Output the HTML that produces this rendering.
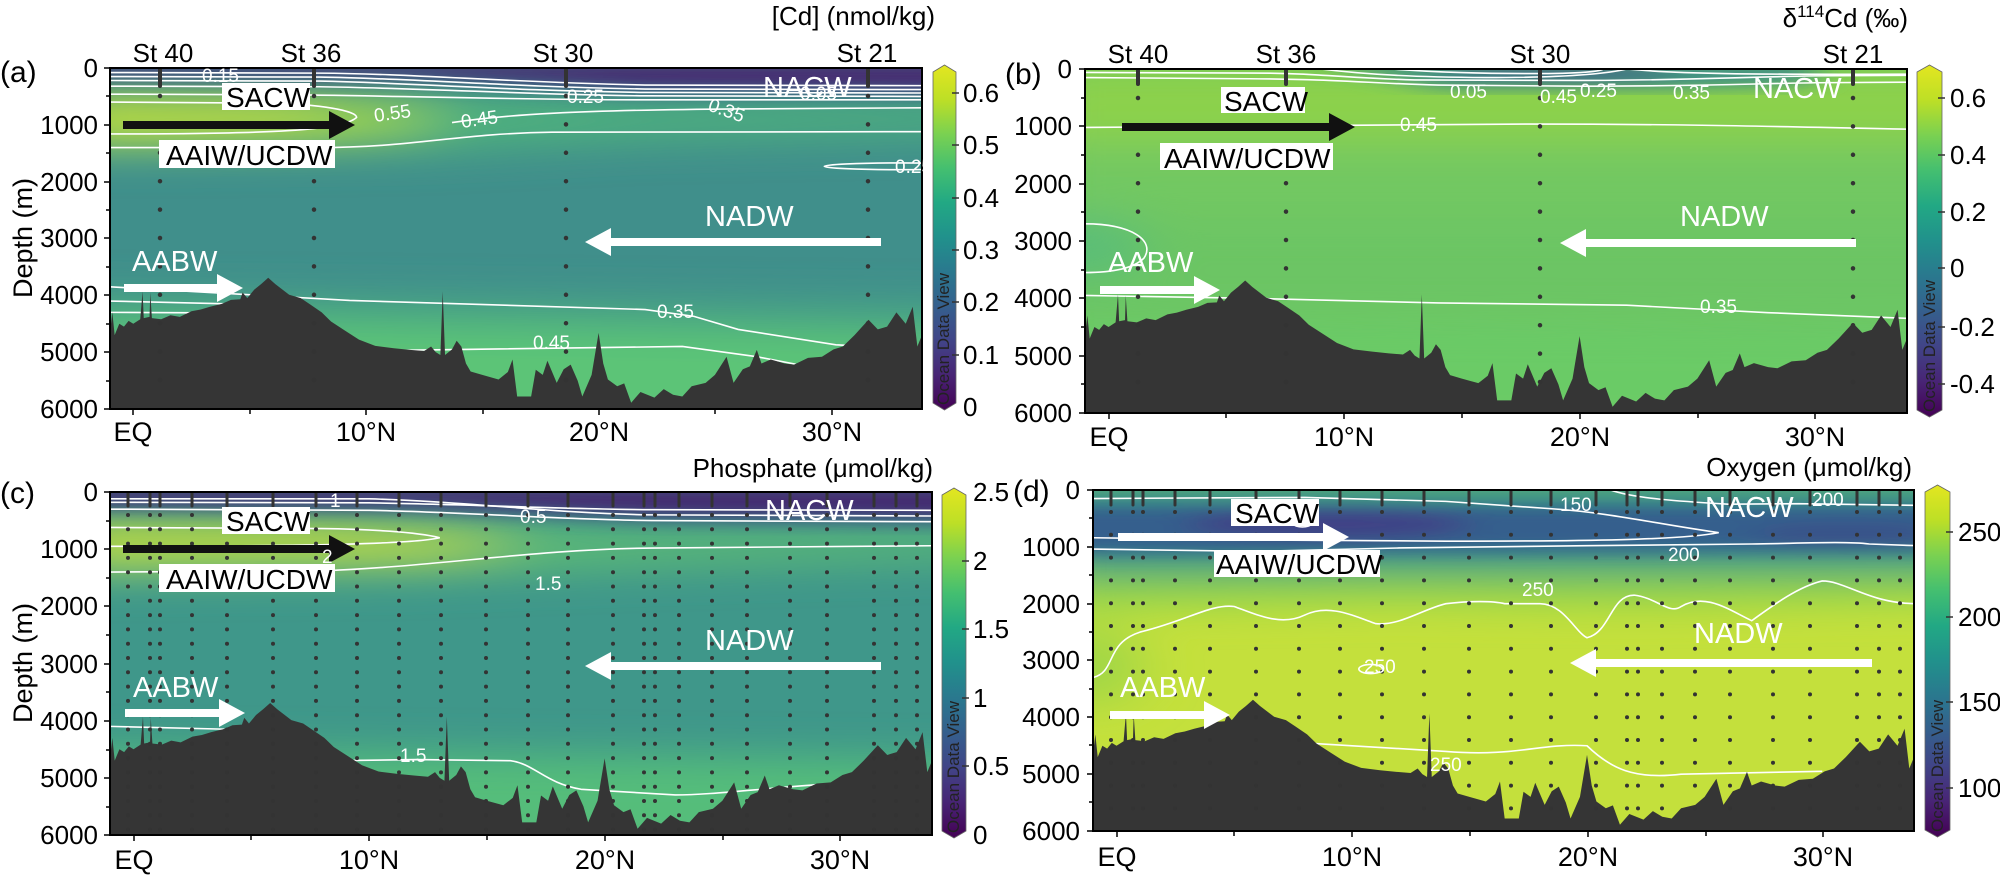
<!DOCTYPE html>
<html><head><meta charset="utf-8"><style>
html,body{margin:0;padding:0;background:#fff}
svg text{font-family:"Liberation Sans",Arial,sans-serif}
</style></head><body>
<svg width="2000" height="878" viewBox="0 0 2000 878" xmlns="http://www.w3.org/2000/svg">
<defs>
<linearGradient id="vir" x1="0" y1="1" x2="0" y2="0">
<stop offset="0" stop-color="#440154"/><stop offset="0.1" stop-color="#482475"/><stop offset="0.2" stop-color="#414487"/><stop offset="0.3" stop-color="#355f8d"/><stop offset="0.4" stop-color="#2a788e"/><stop offset="0.5" stop-color="#21918c"/><stop offset="0.6" stop-color="#22a884"/><stop offset="0.7" stop-color="#44bf70"/><stop offset="0.8" stop-color="#7ad151"/><stop offset="0.9" stop-color="#bddf26"/><stop offset="1" stop-color="#e3e620"/>
</linearGradient>
<filter id="fb" x="-30%" y="-30%" width="160%" height="160%"><feGaussianBlur stdDeviation="1.2 340"/></filter>
<filter id="fs" x="-30%" y="-30%" width="160%" height="160%"><feGaussianBlur stdDeviation="0.8 150"/></filter>
<symbol id="bathy" viewBox="-1 0 34.9 6000" preserveAspectRatio="none">
<path fill="#353535" d="M-1 6000 L-1 4650 L-0.9 4300 L-0.8 4700 L-0.6 4500 L-0.4 4550 L-0.2 4450 L0 4500 L0.3 4420 L0.4 3930 L0.45 4400 L0.7 4380 L0.73 3950 L0.8 4400 L1.2 4420 L1.6 4350 L2 4380 L2.5 4280 L2.9 4250 L3.3 4200 L3.8 4150 L4.2 4080 L4.6 4070 L4.7 3950 L4.9 4050 L5.2 3900 L5.5 3800 L5.8 3690 L6.1 3800 L6.7 3990 L7.2 4050 L7.6 4160 L8.1 4300 L8.5 4460 L9.1 4620 L9.7 4780 L10.4 4890 L11.2 4930 L11.9 4960 L12.5 4980 L12.8 4900 L13 5000 L13.2 5050 L13.3 3930 L13.4 5050 L13.7 4950 L13.9 4800 L14.1 4900 L14.3 5200 L14.5 5340 L15 5400 L15.7 5480 L16.1 5350 L16.3 5130 L16.5 5780 L17.1 5780 L17.3 5310 L17.6 5400 L17.8 5150 L18.2 5540 L18.5 5300 L18.8 5220 L19.1 5500 L19.3 5780 L19.7 5400 L20 4660 L20.2 5200 L20.4 5480 L20.8 5600 L21.1 5550 L21.4 5890 L21.8 5700 L22.4 5800 L22.8 5650 L23.2 5750 L23.6 5780 L24 5600 L24.6 5540 L25 5400 L25.5 5080 L25.8 5540 L26.2 5300 L26.5 5250 L26.8 4960 L27 5200 L27.4 5130 L28 5200 L28.4 5220 L29 5100 L29.6 5080 L30.1 4950 L30.5 4900 L31 4700 L31.6 4430 L32 4600 L32.4 4550 L32.8 4300 L33.2 4500 L33.5 4200 L33.7 4900 L34 4600 L34 6000 Z"/>
</symbol>
</defs>

<!-- ============ PANEL A ============ -->
<svg x="110" y="68" width="812" height="341" viewBox="-1 0 34.9 6000" preserveAspectRatio="none">
<rect x="-3" y="-200" width="40" height="6400" fill="#408f8b"/>
<g filter="url(#fb)">
<polygon points="-3,4000 40,4200 40,6500 -3,6500" fill="#4aa684"/>
<polygon points="-3,4400 40,4700 40,6500 -3,6500" fill="#5cc477"/>
<polygon points="-3,400 12,450 22,600 40,650 40,1100 22,1250 12,1450 -3,1500" fill="#4fb37d"/>
<polygon points="-3,520 8,560 12,700 14,900 10,1200 -3,1300" fill="#a6d93a"/>
<polygon points="-3,600 7,640 9,900 6,1100 -3,1150" fill="#c4e02c"/>
</g>
<g filter="url(#fs)">
<polygon points="-3,-100 40,-100 40,520 22,450 12,240 -3,180" fill="#3b5b8b"/>
<polygon points="-3,-100 40,-100 40,380 22,320 12,130 -3,90" fill="#46256f"/>
</g>
<g fill="none" stroke="#fff" stroke-width="1.6">
<path vector-effect="non-scaling-stroke" d="M-1 80 L8 90 C12 100 16 250 22 300 L34 310"/>
<path vector-effect="non-scaling-stroke" d="M-1 150 L8 160 C12 180 16 330 22 370 L34 380"/>
<path vector-effect="non-scaling-stroke" d="M-1 220 L8 230 C12 260 16 400 22 430 L34 440"/>
<path vector-effect="non-scaling-stroke" d="M-1 320 L8 330 C13 360 17 470 22 490 L34 500"/>
<path vector-effect="non-scaling-stroke" d="M-1 460 L6 470 C11 480 16 560 22 560 L34 560"/>
<path vector-effect="non-scaling-stroke" d="M-1 600 L6 620 C8 640 9.6 750 9.6 870 C9 1100 6 1160 -1 1160"/>
<path vector-effect="non-scaling-stroke" d="M-1 1400 L8 1400 C12 1400 14 1150 18 1130 L34 1120"/>
<path vector-effect="non-scaling-stroke" d="M13.7 960 C16 820 19 740 26 720 L34 700"/>
<ellipse vector-effect="non-scaling-stroke" cx="33" cy="1730" rx="3.3" ry="60"/>
<path vector-effect="non-scaling-stroke" d="M-1 3850 L9.3 4090 L22 4250 L24.1 4370 L26 4600 L30.2 4870 L34 4950"/>
<path vector-effect="non-scaling-stroke" d="M-1 4100 L4 4150"/>
<path vector-effect="non-scaling-stroke" d="M-1 4300 L4 4310"/>
<path vector-effect="non-scaling-stroke" d="M9 4980 L23.6 4900 L26.8 5080 L29.2 5270 L31 5300"/>
</g>
<use href="#bathy" x="-1" y="0" width="34.9" height="6000"/>
</svg>

<!-- ============ PANEL B ============ -->
<svg x="1085" y="69" width="822" height="344" viewBox="-1 0 34.9 6000" preserveAspectRatio="none">
<rect x="-3" y="-200" width="40" height="6400" fill="#6cc564"/>
<g filter="url(#fb)">
<polygon points="-3,-100 40,-100 40,1300 -3,1300" fill="#8cd14c"/>
<polygon points="-3,1300 40,1300 40,2600 -3,2600" fill="#72c862"/>
<ellipse cx="-1" cy="3100" rx="2.5" ry="550" fill="#5abd78"/>
<polygon points="-3,4400 40,4500 40,6500 -3,6500" fill="#6acb66"/>
</g>
<g filter="url(#fs)">
<polygon points="9,-100 30,-100 30,250 24,320 14,320" fill="#3a8a8a"/>
<ellipse cx="19" cy="60" rx="5" ry="130" fill="#3b568b"/>
</g>
<g fill="none" stroke="#fff" stroke-width="1.6">
<path vector-effect="non-scaling-stroke" d="M-1 60 L6 70 C9 70 10 160 13 190 L20 200 C24 200 26 150 30 120 L34 110"/>
<path vector-effect="non-scaling-stroke" d="M-1 150 L6 170 C10 180 11 250 14 280 L20 300 C25 300 27 260 30 240 L34 230"/>
<path vector-effect="non-scaling-stroke" d="M9 0 C11 100 13 140 16 150 C19 150 21 100 22 0"/>
<path vector-effect="non-scaling-stroke" d="M12 0 C14 60 16 80 18 80 C20 80 21 40 21 0"/>
<path vector-effect="non-scaling-stroke" d="M22 0 C24 80 27 100 34 90"/>
<path vector-effect="non-scaling-stroke" d="M-1 1020 L5 1000 C9 980 12 980 18 960 C24 960 28 1000 34 1050"/>
<path vector-effect="non-scaling-stroke" d="M-1 2700 C1 2700 2 3000 1.5 3300 C1 3500 0 3550 -1 3550"/>
<path vector-effect="non-scaling-stroke" d="M-1 3950 L6 4000 L14 4080 L22 4120 L28 4250 L34 4350"/>
</g>
<use href="#bathy" x="-1" y="0" width="34.9" height="6000"/>
</svg>

<!-- ============ PANEL C ============ -->
<svg x="110" y="492" width="822" height="343" viewBox="-1 0 34.9 6000" preserveAspectRatio="none">
<rect x="-3" y="-200" width="40" height="6400" fill="#3f978a"/>
<g filter="url(#fb)">
<polygon points="-3,4500 40,4700 40,6500 -3,6500" fill="#55bd7a"/>
<polygon points="-3,450 12,480 22,650 40,700 40,1100 22,1300 12,1450 -3,1500" fill="#5dbb76"/>
<polygon points="-3,580 8,600 14,750 17,950 12,1150 -3,1200" fill="#c6df2c"/>
</g>
<g filter="url(#fs)">
<polygon points="-3,-100 40,-100 40,560 22,500 12,330 -3,290" fill="#3a5c8b"/>
<polygon points="-3,-100 40,-100 40,430 22,380 12,220 -3,190" fill="#45286f"/>
</g>
<g fill="none" stroke="#fff" stroke-width="1.6">
<path vector-effect="non-scaling-stroke" d="M-1 120 L10 120 C14 160 18 380 22 400 L34 420"/>
<path vector-effect="non-scaling-stroke" d="M-1 180 L10 190 C14 210 18 300 22 310 L34 320"/>
<path vector-effect="non-scaling-stroke" d="M-1 300 L10 320 C14 350 18 480 22 500 L34 520"/>
<path vector-effect="non-scaling-stroke" d="M-1 620 L8 640 C10 650 12 700 13 800 C12 900 8 950 -1 950"/>
<path vector-effect="non-scaling-stroke" d="M-1 1400 L8 1380 C13 1300 17 1000 22 980 L34 940"/>
<path vector-effect="non-scaling-stroke" d="M8.5 4700 L12 4680 L16 4700 C17 4750 17.5 5100 19 5200 L23 5300 C25 5300 28 5100 34 5000"/>
<path vector-effect="non-scaling-stroke" d="M-1 4100 L4 4150"/>
</g>
<use href="#bathy" x="-1" y="0" width="34.9" height="6000"/>
</svg>

<!-- ============ PANEL D ============ -->
<svg x="1093" y="490" width="821" height="341" viewBox="-1 0 34.9 6000" preserveAspectRatio="none">
<rect x="-3" y="-200" width="40" height="6400" fill="#c4e03c"/>
<g filter="url(#fb)">
<polygon points="-3,-100 40,-100 40,1900 22,2000 12,1950 -3,2050" fill="#8ad24e"/>
<polygon points="-3,-100 40,-100 40,1400 -3,1450" fill="#2d8f8b"/>
<ellipse cx="-1" cy="3100" rx="2" ry="700" fill="#9fd646"/>
</g>
<g filter="url(#fs)">
<polygon points="-3,250 40,250 40,1050 -3,1100" fill="#355e8d"/>
<ellipse cx="9" cy="600" rx="6" ry="250" fill="#403f86"/>
<ellipse cx="31" cy="800" rx="4" ry="180" fill="#3b4f89"/>
<polygon points="-3,-100 40,-100 40,150 -3,150" fill="#3c9c89"/>
</g>
<g fill="none" stroke="#fff" stroke-width="1.6">
<path vector-effect="non-scaling-stroke" d="M-1 150 L8 130 L14 200 L18.5 330 C21 400 23 600 25.6 750 C24 880 20 900 14 900 L6 880 L-1 840"/>
<path vector-effect="non-scaling-stroke" d="M21 0 C22 150 24 200 26 250 L29 240 L34 270"/>
<path vector-effect="non-scaling-stroke" d="M-1 1040 L6 1080 L12 1020 L20 980 L27 950 C29 940 31 900 32 950 L34 980"/>
<path vector-effect="non-scaling-stroke" d="M-1 3300 C0 3200 -0.5 2700 1 2500 C3 2300 4 2000 5 2050 C6 2200 7 2400 8 2200 C9 2000 10 2200 11 2350 C12 2400 13 2100 14 2000 C15 1950 16 1950 16.5 2000 L18 2000 C19 2000 19.5 2500 20 2600 C21 2500 21 1850 22 1850 C23 1900 23.5 2200 24 2050 C25 1800 26 2100 27 2300 C28 2000 29 1700 30 1600 C31 1600 32 2000 34 2000"/>
<ellipse vector-effect="non-scaling-stroke" cx="10.8" cy="3150" rx="0.5" ry="80"/>
<ellipse vector-effect="non-scaling-stroke" cx="7.9" cy="600" rx="0.35" ry="50"/>
<path vector-effect="non-scaling-stroke" d="M8 4450 L14 4600 C17 4700 18 4450 20 4500 C21 4900 22 5100 24 5000 L30 4950"/>
</g>
<use href="#bathy" x="-1" y="0" width="34.9" height="6000"/>
</svg>

<!-- station dots -->
<g stroke="#333" stroke-linecap="round" fill="none">
<g stroke-width="4">
<line x1="160" y1="69" x2="160" y2="86"/><line x1="314" y1="69" x2="314" y2="86"/><line x1="566" y1="69" x2="566" y2="86"/><line x1="868" y1="69" x2="868" y2="86"/>
<line x1="1138" y1="70" x2="1138" y2="84"/><line x1="1286" y1="70" x2="1286" y2="84"/><line x1="1540" y1="70" x2="1540" y2="84"/><line x1="1853" y1="70" x2="1853" y2="84"/>
</g>
<g stroke-width="4.5" stroke-dasharray="0 28.4">
<line x1="160" y1="96" x2="160" y2="400"/><line x1="314" y1="96" x2="314" y2="400"/><line x1="566" y1="96" x2="566" y2="400"/><line x1="868" y1="96" x2="868" y2="400"/>
<line x1="1138" y1="98" x2="1138" y2="405"/><line x1="1286" y1="98" x2="1286" y2="405"/><line x1="1540" y1="98" x2="1540" y2="405"/><line x1="1853" y1="98" x2="1853" y2="405"/>
</g>
<g stroke-width="3">
<path d="M128 493V506M150 493V506M160 493V506M192 493V506M227 493V506M273 493V506M316 493V506M357 493V506M399 493V506M441 493V506M486 493V506M528 493V506M568 493V506M613 493V506M644 493V506M655 493V506M679 493V506M712 493V506M747 493V506M790 493V506M827 493V506M874 493V506M896 493V506M917 493V506"/>
<path d="M1111 491V505M1133 491V505M1143 491V505M1175 491V505M1210 491V505M1256 491V505M1299 491V505M1340 491V505M1382 491V505M1424 491V505M1469 491V505M1511 491V505M1551 491V505M1596 491V505M1627 491V505M1638 491V505M1662 491V505M1695 491V505M1730 491V505M1773 491V505M1810 491V505M1857 491V505M1879 491V505M1900 491V505"/>
</g>
<g stroke-width="4" stroke-dasharray="0 14.3">
<path d="M128 515V830M150 515V830M160 515V830M192 515V830M227 515V830M273 515V830M316 515V830M357 515V830M399 515V830M441 515V830M486 515V830M528 515V830M568 515V830M613 515V830M644 515V830M655 515V830M679 515V830M712 515V830M747 515V830M790 515V830M827 515V830M874 515V830M896 515V830M917 515V830"/>
</g>
<g stroke-width="4" stroke-dasharray="0 22.8">
<path d="M1111 512V826M1133 512V826M1143 512V826M1175 512V826M1210 512V826M1256 512V826M1299 512V826M1340 512V826M1382 512V826M1424 512V826M1469 512V826M1511 512V826M1551 512V826M1596 512V826M1627 512V826M1638 512V826M1662 512V826M1695 512V826M1730 512V826M1773 512V826M1810 512V826M1857 512V826M1879 512V826M1900 512V826"/>
</g>
</g>

<!-- frames -->
<g fill="none" stroke="#000" stroke-width="2">
<rect x="110" y="68" width="812" height="341"/>
<rect x="1085" y="69" width="822" height="344"/>
<rect x="110" y="492" width="822" height="343"/>
<rect x="1093" y="490" width="821" height="341"/>
</g>

<!-- axis ticks -->
<g stroke="#000" stroke-width="1.5">
<path d="M104 68H110M104 125H110M104 182H110M104 238H110M104 295H110M104 352H110M104 409H110M106 96H110M106 153H110M106 210H110M106 267H110M106 324H110M106 381H110"/>
<path d="M1079 69H1085M1079 126H1085M1079 184H1085M1079 241H1085M1079 298H1085M1079 356H1085M1079 413H1085M1081 98H1085M1081 155H1085M1081 212H1085M1081 270H1085M1081 327H1085M1081 384H1085"/>
<path d="M104 492H110M104 549H110M104 606H110M104 664H110M104 721H110M104 778H110M104 835H110M106 521H110M106 578H110M106 635H110M106 692H110M106 750H110M106 807H110"/>
<path d="M1087 490H1093M1087 547H1093M1087 604H1093M1087 660H1093M1087 717H1093M1087 774H1093M1087 831H1093M1089 518H1093M1089 575H1093M1089 632H1093M1089 689H1093M1089 745H1093M1089 802H1093"/>
<path d="M133 409V415M250 409V414M366 409V415M483 409V414M599 409V415M715 409V414M832 409V415"/>
<path d="M1109 413V419M1226 413V418M1344 413V419M1462 413V418M1580 413V419M1698 413V418M1815 413V419"/>
<path d="M134 835V841M251 835V840M369 835V841M487 835V840M605 835V841M723 835V840M840 835V841"/>
<path d="M1117 831V837M1234 831V836M1352 831V837M1470 831V836M1588 831V837M1706 831V836M1823 831V837"/>
</g>

<!-- colorbars -->
<g stroke="#666" stroke-width="0.8">
<polygon points="933,72 944.5,65 956,72 956,403 944.5,410 933,403" fill="url(#vir)"/>
<polygon points="1917,72 1929.5,65 1942,72 1942,410 1929.5,417 1917,410" fill="url(#vir)"/>
<polygon points="942,495 954,488 966,495 966,831 954,838 942,831" fill="url(#vir)"/>
<polygon points="1925,492 1937.5,485 1950,492 1950,830 1937.5,837 1925,830" fill="url(#vir)"/>
</g>
<g stroke="#333" stroke-width="1.5">
<path d="M952 93H959M952 145H959M952 198H959M952 250H959M952 302H959M952 355H959"/>
<path d="M1938 98H1945M1938 155H1945M1938 212H1945M1938 268H1945M1938 327H1945M1938 384H1945"/>
<path d="M962 561H969M962 629H969M962 698H969M962 766H969"/>
<path d="M1946 532H1953M1946 617H1953M1946 702H1953M1946 788H1953"/>
</g>
<g font-size="17" fill="#222">
<text transform="translate(949,405) rotate(-90)">Ocean Data View</text>
<text transform="translate(1935,412) rotate(-90)">Ocean Data View</text>
<text transform="translate(959,833) rotate(-90)">Ocean Data View</text>
<text transform="translate(1943,832) rotate(-90)">Ocean Data View</text>
</g>
<g font-size="26" fill="#000">
<text x="963" y="102">0.6</text><text x="963" y="154">0.5</text><text x="963" y="207">0.4</text><text x="963" y="259">0.3</text><text x="963" y="311">0.2</text><text x="963" y="364">0.1</text><text x="963" y="416">0</text>
<text x="1950" y="107">0.6</text><text x="1950" y="164">0.4</text><text x="1950" y="221">0.2</text><text x="1950" y="277">0</text><text x="1950" y="336">-0.2</text><text x="1950" y="393">-0.4</text>
<text x="973" y="501">2.5</text><text x="973" y="570">2</text><text x="973" y="638">1.5</text><text x="973" y="707">1</text><text x="973" y="775">0.5</text><text x="973" y="844">0</text>
<text x="1958" y="541">250</text><text x="1958" y="626">200</text><text x="1958" y="711">150</text><text x="1958" y="797">100</text>
</g>

<!-- depth labels -->
<g font-size="26" fill="#000" text-anchor="end">
<text x="98" y="77">0</text><text x="98" y="134">1000</text><text x="98" y="191">2000</text><text x="98" y="247">3000</text><text x="98" y="304">4000</text><text x="98" y="361">5000</text><text x="98" y="418">6000</text>
<text x="1072" y="78">0</text><text x="1072" y="135">1000</text><text x="1072" y="193">2000</text><text x="1072" y="250">3000</text><text x="1072" y="307">4000</text><text x="1072" y="365">5000</text><text x="1072" y="422">6000</text>
<text x="98" y="501">0</text><text x="98" y="558">1000</text><text x="98" y="615">2000</text><text x="98" y="673">3000</text><text x="98" y="730">4000</text><text x="98" y="787">5000</text><text x="98" y="844">6000</text>
<text x="1080" y="499">0</text><text x="1080" y="556">1000</text><text x="1080" y="613">2000</text><text x="1080" y="669">3000</text><text x="1080" y="726">4000</text><text x="1080" y="783">5000</text><text x="1080" y="840">6000</text>
</g>
<g font-size="27" fill="#000" text-anchor="middle">
<text transform="translate(32,238) rotate(-90)">Depth (m)</text>
<text transform="translate(32,663) rotate(-90)">Depth (m)</text>
<text x="133" y="441">EQ</text><text x="366" y="441">10°N</text><text x="599" y="441">20°N</text><text x="832" y="441">30°N</text>
<text x="1109" y="446">EQ</text><text x="1344" y="446">10°N</text><text x="1580" y="446">20°N</text><text x="1815" y="446">30°N</text>
<text x="134" y="869">EQ</text><text x="369" y="869">10°N</text><text x="605" y="869">20°N</text><text x="840" y="869">30°N</text>
<text x="1117" y="866">EQ</text><text x="1352" y="866">10°N</text><text x="1588" y="866">20°N</text><text x="1823" y="866">30°N</text>
</g>
<g font-size="26" fill="#000" text-anchor="middle">
<text x="163" y="62">St 40</text><text x="311" y="62">St 36</text><text x="563" y="62">St 30</text><text x="867" y="62">St 21</text>
<text x="1138" y="63">St 40</text><text x="1286" y="63">St 36</text><text x="1540" y="63">St 30</text><text x="1853" y="63">St 21</text>
</g>
<g font-size="26" fill="#000" text-anchor="end">
<text x="935" y="25">[Cd] (nmol/kg)</text>
<text x="1908" y="27">δ<tspan font-size="17" dy="-10">114</tspan><tspan dy="10">Cd (‰)</tspan></text>
<text x="933" y="477">Phosphate (μmol/kg)</text>
<text x="1912" y="476">Oxygen (μmol/kg)</text>
</g>
<g font-size="30" fill="#000">
<text x="0" y="82">(a)</text><text x="1005" y="84">(b)</text><text x="0" y="503">(c)</text><text x="1013" y="501">(d)</text>
</g>

<!-- water mass labels -->
<g fill="#fff">
<rect x="222" y="83" width="88" height="27"/><rect x="159" y="140" width="176" height="28"/>
<rect x="1221" y="87" width="84" height="26"/><rect x="1160" y="143" width="173" height="27"/>
<rect x="222" y="507" width="88" height="27"/><rect x="159" y="564" width="176" height="28"/>
<rect x="1231" y="499" width="88" height="27"/><rect x="1214" y="550" width="166" height="27"/>
</g>
<g font-size="28" fill="#000">
<text x="226" y="107">SACW</text><text x="166" y="165">AAIW/UCDW</text>
<text x="1224" y="111">SACW</text><text x="1164" y="168">AAIW/UCDW</text>
<text x="226" y="531">SACW</text><text x="166" y="589">AAIW/UCDW</text>
<text x="1235" y="523">SACW</text><text x="1216" y="574">AAIW/UCDW</text>
</g>
<g fill="#111">
<polygon points="123,121 329,121 329,111 355,125 329,139 329,129 123,129"/>
<polygon points="1122,123 1329,123 1329,113 1355,127 1329,141 1329,131 1122,131"/>
<polygon points="123,545 329,545 329,535 355,549 329,563 329,553 123,553"/>
</g>
<g fill="#fff">
<polygon points="1118,533 1323,533 1323,523 1349,537 1323,551 1323,541 1118,541"/>
<polygon points="124,284 217,284 217,274 243,288 217,302 217,292 124,292"/>
<polygon points="1100,286 1194,286 1194,276 1220,290 1194,304 1194,294 1100,294"/>
<polygon points="125,709 219,709 219,699 245,713 219,727 219,717 125,717"/>
<polygon points="1110,711 1204,711 1204,701 1230,715 1204,729 1204,719 1110,719"/>
<polygon points="881,238 611,238 611,228 585,242 611,256 611,246 881,246"/>
<polygon points="1856,239 1586,239 1586,229 1560,243 1586,257 1586,247 1856,247"/>
<polygon points="881,662 611,662 611,652 585,666 611,680 611,670 881,670"/>
<polygon points="1872,659 1596,659 1596,649 1570,663 1596,677 1596,667 1872,667"/>
</g>
<g font-size="29" fill="#fff">
<text x="132" y="271">AABW</text><text x="1108" y="272">AABW</text><text x="133" y="697">AABW</text><text x="1120" y="697">AABW</text>
<text x="705" y="226">NADW</text><text x="1680" y="226">NADW</text><text x="705" y="650">NADW</text><text x="1694" y="643">NADW</text>
<text x="763" y="97">NACW</text><text x="1753" y="98">NACW</text><text x="765" y="520">NACW</text><text x="1705" y="517">NACW</text>
</g>
<!-- contour labels -->
<g font-size="19" fill="#fff">
<text x="202" y="82">0.15</text>
<text x="375" y="122" transform="rotate(-8 375 122)">0.55</text>
<text x="462" y="128" transform="rotate(-8 462 128)">0.45</text>
<text x="567" y="103">0.25</text>
<text x="707" y="110" transform="rotate(20 707 110)">0.35</text>
<text x="800" y="100">0.05</text>
<text x="895" y="173">0.25</text>
<text x="657" y="318">0.35</text>
<text x="533" y="349">0.45</text>
<text x="1400" y="131">0.45</text>
<text x="1450" y="98">0.05</text><text x="1580" y="97">0.25</text><text x="1673" y="99">0.35</text><text x="1540" y="103">0.45</text>
<text x="1700" y="313">0.35</text>
<text x="330" y="507">1</text><text x="520" y="523">0.5</text><text x="322" y="563">2</text><text x="535" y="590">1.5</text><text x="400" y="762">1.5</text>
<text x="1560" y="511">150</text><text x="1812" y="506">200</text><text x="1668" y="561">200</text><text x="1522" y="596">250</text><text x="1364" y="673">250</text><text x="1430" y="771">250</text>
</g>
</svg>
</body></html>
